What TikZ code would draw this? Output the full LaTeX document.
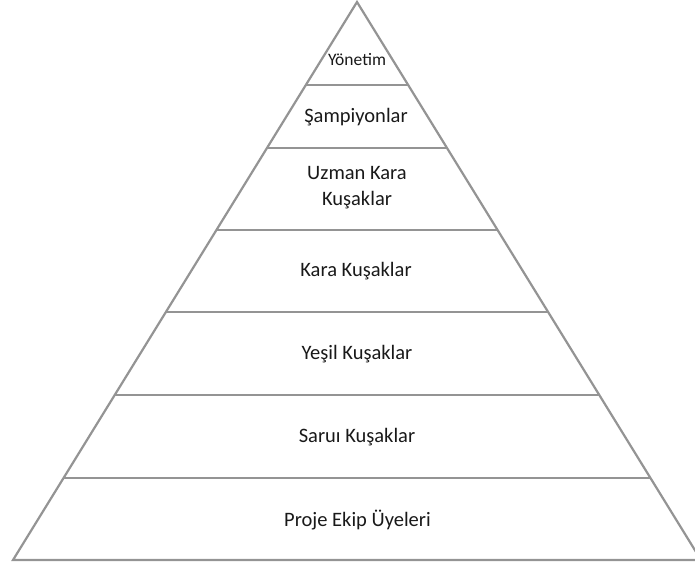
\documentclass[tikz,border=0pt]{standalone}
\usepackage{fontspec}
\setmainfont{Carlito}
\usetikzlibrary{calc}
\begin{document}
\begin{tikzpicture}[x=1pt,y=-1pt,
  edge/.style={draw=black!42, line width=2.2pt, line join=miter},
  tier/.style={font=\fontsize{20.5}{26}\selectfont, align=center, text=black!90, inner sep=0pt},
  smalltier/.style={tier, font=\fontsize{17.5}{20}\selectfont}]
  \useasboundingbox (0,0) rectangle (695,567);
  % outline of the pyramid
  \coordinate (apex) at (357,2);
  \coordinate (bl) at (13,560);
  \coordinate (br) at (701,560);
  % tier boundaries on both sides, given by their heights
  \foreach \n/\h in {a/85,b/148,c/230,d/312,e/395,f/478}{
    \pgfmathsetmacro{\t}{(\h-2)/558}
    \coordinate (l\n) at ($(apex)!\t!(bl)$);
    \coordinate (r\n) at ($(apex)!\t!(br)$);
  }
  \draw[edge] (apex) -- (bl) -- (br) -- cycle;
  \foreach \n in {a,b,c,d,e,f}{
    \draw[edge] (l\n) -- (r\n);
  }
  % tier labels
  \node[smalltier] (t1) at (357,60) {Yönetim};
  \node[tier] (t2) at (356,117) {Şampiyonlar};
  \node[tier] (t3) at (357,188) {Uzman Kara\\Kuşaklar};
  \node[tier] (t4) at (356,271) {Kara Kuşaklar};
  \node[tier] (t5) at (357,354) {Yeşil Kuşaklar};
  \node[tier] (t6) at (357,437) {Saruı Kuşaklar};
  \node[tier] (t7) at (357.5,520) {Proje Ekip Üyeleri};
\end{tikzpicture}
\end{document}
